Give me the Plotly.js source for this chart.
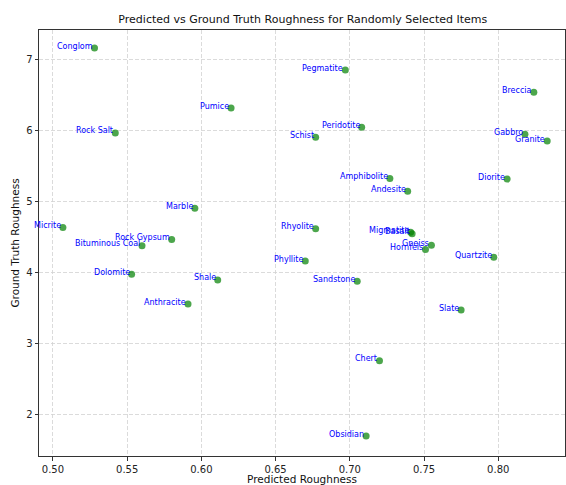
<!DOCTYPE html>
<html>
<head>
<meta charset="utf-8">
<script src="https://cdn.plot.ly/plotly-3.0.1.min.js"></script>
<style>
  html, body { margin: 0; padding: 0; background: #fff; }
  #chart { width: 566px; height: 485px; }
</style>
</head>
<body>
<div id="chart"></div>
<script>
// Rock names with predicted and measured roughness
const rocks = [
  "Conglom", "Pegmatite", "Pumice", "Breccia", "Peridotite", "Rock Salt", "Schist",
  "Gabbro", "Granite", "Amphibolite", "Andesite", "Diorite", "Marble", "Micrite",
  "Rhyolite", "Migmatite", "Basalt", "Rock Gypsum", "Gneiss", "Bituminous Coal",
  "Hornfels", "Quartzite", "Phyllite", "Dolomite", "Shale", "Sandstone",
  "Anthracite", "Slate", "Chert", "Obsidian"
];
const predicted = [
  0.528, 0.697, 0.620, 0.824, 0.708, 0.542, 0.677,
  0.818, 0.833, 0.727, 0.739, 0.806, 0.5956, 0.5067,
  0.677, 0.741, 0.742, 0.580, 0.755, 0.560,
  0.751, 0.797, 0.670, 0.553, 0.611, 0.705,
  0.591, 0.775, 0.720, 0.711
];
const groundTruth = [
  7.155, 6.845, 6.31, 6.535, 6.04, 5.96, 5.90,
  5.94, 5.845, 5.32, 5.14, 5.31, 4.90, 4.63,
  4.61, 4.56, 4.54, 4.46, 4.38, 4.37,
  4.32, 4.21, 4.155, 3.97, 3.89, 3.87,
  3.55, 3.465, 2.75, 1.69
];

const xTicks = [0.50, 0.55, 0.60, 0.65, 0.70, 0.75, 0.80];
const xTickText = ["0.50", "0.55", "0.60", "0.65", "0.70", "0.75", "0.80"];
const yTicks = [2, 3, 4, 5, 6, 7];

const font = "DejaVu Sans, sans-serif";

const points = {
  type: "scatter",
  mode: "markers",
  x: predicted,
  y: groundTruth,
  marker: { color: "rgba(0,128,0,0.7)", size: 7, line: { width: 0 } },
  hoverinfo: "text",
  text: rocks
};

// Name tags sit just up-left of each point, ending at its centre
const tags = rocks.map((name, i) => ({
  x: predicted[i],
  y: groundTruth[i],
  xref: "x", yref: "y",
  text: name,
  showarrow: false,
  xanchor: "right",
  yanchor: "middle",
  xshift: 0,
  yshift: 2,
  font: { family: font, size: 8, color: "blue" }
}));

const axisCommon = {
  showline: true,
  linecolor: "#333",
  linewidth: 1,
  mirror: true,
  ticks: "outside",
  ticklen: 3.5,
  tickcolor: "#333",
  showgrid: true,
  gridcolor: "#d2d2d2",
  griddash: "4px,2px",
  gridwidth: 0.8,
  zeroline: false,
  tickfont: { family: font, size: 10, color: "#222" }
};

const layout = {
  width: 566,
  height: 485,
  margin: { l: 39, r: 1, t: 30, b: 29 },
  paper_bgcolor: "#fff",
  plot_bgcolor: "#fff",
  showlegend: false,
  title: {
    text: "Predicted vs Ground Truth Roughness for Randomly Selected Items",
    font: { family: font, size: 11, color: "#111" },
    x: 0.535, xanchor: "center",
    y: 0.961, yanchor: "middle"
  },
  xaxis: Object.assign({}, axisCommon, {
    range: [0.4906, 0.845],
    tickvals: xTicks,
    ticktext: xTickText,
    title: { text: "Predicted Roughness", font: { family: font, size: 10.5, color: "#111" }, standoff: 8 }
  }),
  yaxis: Object.assign({}, axisCommon, {
    range: [1.41, 7.41],
    tickvals: yTicks,
    title: { text: "Ground Truth Roughness", font: { family: font, size: 10.5, color: "#111" }, standoff: 4 }
  }),
  annotations: tags
};

Plotly.newPlot("chart", [points], layout, { staticPlot: true, displayModeBar: false });
</script>
</body>
</html>
